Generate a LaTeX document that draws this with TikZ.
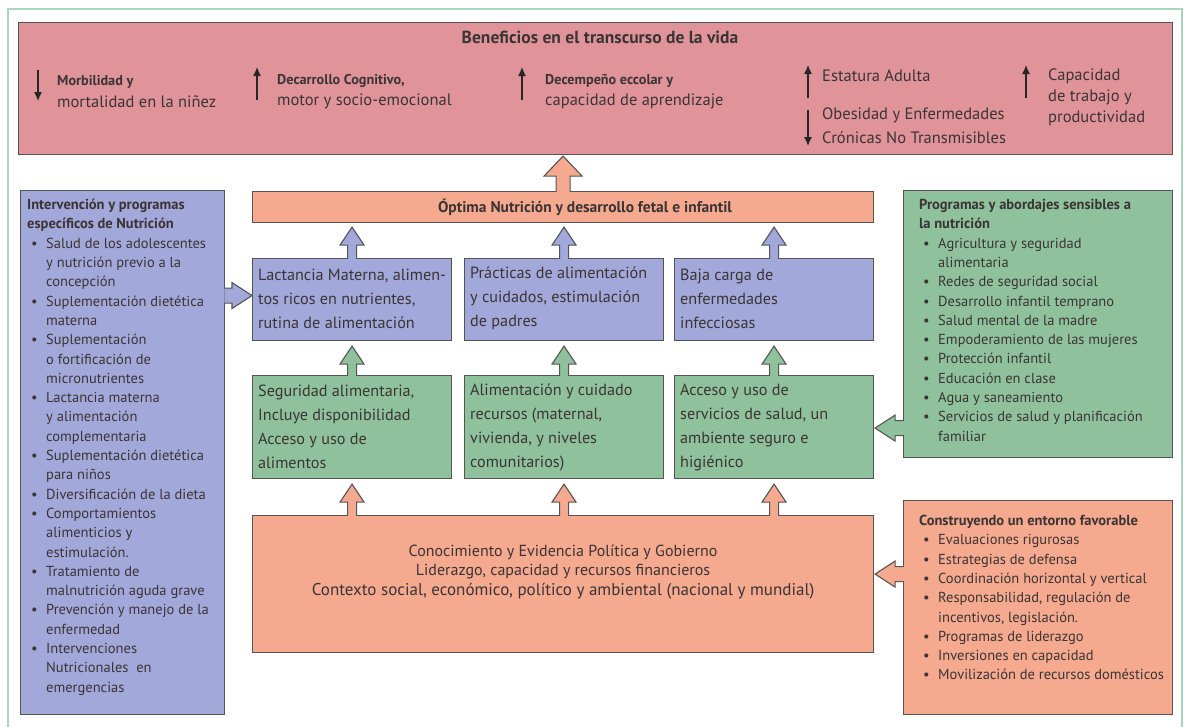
\documentclass[tikz,border=0pt]{standalone}
\usepackage{fontspec}
\setmainfont{PT Sans}
\usetikzlibrary{arrows.meta,calc}
\definecolor{pinkc}{HTML}{E0949A}
\definecolor{bluec}{HTML}{A2A8DA}
\definecolor{greenc}{HTML}{8FC29C}
\definecolor{orangec}{HTML}{F5A98F}
\definecolor{framec}{HTML}{A6D6BC}
\definecolor{edgec}{HTML}{555555}
\definecolor{txt}{HTML}{3B3434}
\newcommand\bul{\hspace*{4pt}\makebox[15pt][l]{\textbullet}}
\newcommand\ind{\hspace*{19pt}}
\newcommand\blockarrow[6]{%
  \path let \p1=(#1), \p2=(#2), \n1={atan2(\y2-\y1,\x2-\x1)}, \n2={veclen(\x2-\x1,\y2-\y1)} in
    \pgfextra{\xdef\baang{\n1}\xdef\balen{\n2}\xdef\bax{\x1}\xdef\bay{\y1}};
  \begin{scope}[shift={(\bax,\bay)}, rotate=\baang]
    \fill[#6] (0pt,-#3pt) -- ({\balen-#5pt},-#3pt) -- ({\balen-#5pt},-#4pt) -- (\balen,0pt) -- ({\balen-#5pt},#4pt) -- ({\balen-#5pt},#3pt) -- (0pt,#3pt) -- cycle;
    \draw[barrowline] (0pt,-#3pt) -- ({\balen-#5pt},-#3pt) -- ({\balen-#5pt},-#4pt) -- (\balen,0pt) -- ({\balen-#5pt},#4pt) -- ({\balen-#5pt},#3pt) -- (0pt,#3pt);
  \end{scope}}
\tikzset{
  box/.style={draw=edgec, line width=1.1pt, rectangle, inner sep=0pt, anchor=north west},
  btxt/.style={text=txt, inner sep=0pt, align=left, font=\fontsize{16.2}{24}\selectfont},
  ltxt/.style={text=txt, inner sep=0pt, align=left, anchor=north west, font=\fontsize{14.5}{19.3}\selectfont},
  ptxt/.style={text=txt, inner sep=0pt, anchor=west, font=\fontsize{16.5}{19}\selectfont},
  psmall/.style={text=txt, inner sep=0pt, anchor=west, font=\bfseries\fontsize{14.2}{16}\selectfont},
  parrow/.style={draw=black!85, line width=1.3pt, -{Latex[length=9pt,width=8pt]}},
  barrowline/.style={draw=edgec, line width=1.1pt, line join=miter}
}
\begin{document}
\begin{tikzpicture}[x=1pt,y=-1pt]
\useasboundingbox (0,0) rectangle (1188,726);
\fill[white] (0,0) rectangle (1188,726);
\draw[framec, line width=1.8pt] (8,740) -- (8,9) -- (1182,9) -- (1182,740);

% top box
\node[box, fill=pinkc, minimum width=1154pt, minimum height=132pt] (pink) at (18,22) {};
\node[text=txt, inner sep=0pt, font=\bfseries\fontsize{17.5}{20}\selectfont] (ptitle) at (600,37) {Beneficios en el transcurso de la vida};

\coordinate (a1s) at (38,70);  \coordinate (a1e) at (38,101);
\coordinate (a2s) at (257,100); \coordinate (a2e) at (257,67);
\coordinate (a3s) at (522,100); \coordinate (a3e) at (522,67);
\coordinate (a4s) at (808,98);  \coordinate (a4e) at (808,65);
\coordinate (a5s) at (808,110); \coordinate (a5e) at (808,146);
\coordinate (a6s) at (1026,98); \coordinate (a6e) at (1026,65);
\draw[parrow] (a1s) -- (a1e);
\draw[parrow] (a2s) -- (a2e);
\draw[parrow] (a3s) -- (a3e);
\draw[parrow] (a4s) -- (a4e);
\draw[parrow] (a5s) -- (a5e);
\draw[parrow] (a6s) -- (a6e);

\node[psmall] (p1a) at (57,82) {Morbilidad y};
\node[ptxt] (p1b) at (57,102) {mortalidad en la niñez};
\node[psmall] (p2a) at (277,81) {Decarrollo Cognitivo,};
\node[ptxt] (p2b) at (277,101) {motor y socio-emocional};
\node[psmall] (p3a) at (545,81) {Decempeño eccolar y};
\node[ptxt] (p3b) at (545,101) {capacidad de aprendizaje};
\node[ptxt] (p4a) at (822,76) {Estatura Adulta};
\node[ptxt] (p4b) at (822,115) {Obesidad y Enfermedades};
\node[ptxt] (p4c) at (822,138) {Crónicas No Transmisibles};
\node[ptxt] (p5a) at (1048,76) {Capacidad};
\node[ptxt] (p5b) at (1048,97) {de trabajo y};
\node[ptxt] (p5c) at (1048,118) {productividad};

% optimal bar
\node[box, fill=orangec, minimum width=621pt, minimum height=31pt] (bar) at (252,191) {};
\node[text=txt, inner sep=0pt, font=\bfseries\fontsize{15.5}{17}\selectfont] (bartxt) at ($(bar.center)+(22,0)$) {Óptima Nutrición y desarrollo fetal e infantil};

% blue row
\node[box, fill=bluec, minimum width=199pt, minimum height=82pt] (b1) at (252,258) {};
\node[box, fill=bluec, minimum width=199pt, minimum height=82pt] (b2) at (464,258) {};
\node[box, fill=bluec, minimum width=199pt, minimum height=82pt] (b3) at (674,258) {};
\node[btxt, anchor=west] (b1t) at ($(b1.west)+(6,-1)$) {Lactancia Materna, alimen-\\tos ricos en nutrientes,\\rutina de alimentación};
\node[btxt, anchor=west] (b2t) at ($(b2.west)+(6,-1)$) {Prácticas de alimentación\\y cuidados, estimulación\\de padres};
\node[btxt, anchor=west] (b3t) at ($(b3.west)+(6,-1)$) {Baja carga de\\enfermedades\\infecciosas};

% green row
\node[box, fill=greenc, minimum width=199pt, minimum height=103pt] (g1) at (252,375) {};
\node[box, fill=greenc, minimum width=199pt, minimum height=103pt] (g2) at (464,375) {};
\node[box, fill=greenc, minimum width=199pt, minimum height=103pt] (g3) at (674,375) {};
\node[btxt, anchor=west] (g1t) at ($(g1.west)+(6,0)$) {Seguridad alimentaria,\\Incluye disponibilidad\\Acceso y uso de\\alimentos};
\node[btxt, anchor=west] (g2t) at ($(g2.west)+(6,0)$) {Alimentación y cuidado\\recursos (maternal,\\vivienda, y niveles\\comunitarios)};
\node[btxt, anchor=west] (g3t) at ($(g3.west)+(6,0)$) {Acceso y uso de\\servicios de salud, un\\ambiente seguro e\\higiénico};

% bottom orange
\node[box, fill=orangec, minimum width=621pt, minimum height=137pt] (bo) at (252,515) {};
\node[text=txt, inner sep=0pt, align=center, font=\fontsize{16}{20}\selectfont] (bot) at ($(bo.center)+(0,-12)$) {Conocimiento y Evidencia Política y Gobierno\\[-1pt]{\fontsize{16}{18}\selectfont Liderazgo, capacidad y recursos financieros}\\[0pt]{\fontsize{17}{20}\selectfont Contexto social, económico, político y ambiental (nacional y mundial)}};

% left box
\node[box, fill=bluec, minimum width=204pt, minimum height=524pt] (lb) at (20,190) {};
\node[ltxt] (lbt) at (27,199) {%
\textbf{Intervención y programas}\\
\textbf{específicos de Nutrición}\\
\bul Salud de los adolescentes\\
\ind y nutrición previo a la\\
\ind concepción\\
\bul Suplementación dietética\\
\ind materna\\
\bul Suplementación\\
\ind o fortificación de\\
\ind micronutrientes\\
\bul Lactancia materna\\
\ind y alimentación\\
\ind complementaria\\
\bul Suplementación dietética\\
\ind para niños\\
\bul Diversificación de la dieta\\
\bul Comportamientos\\
\ind alimenticios y\\
\ind estimulación.\\
\bul Tratamiento de\\
\ind malnutrición aguda grave\\
\bul Prevención y manejo de la\\
\ind enfermedad\\
\bul Intervenciones\\
\ind Nutricionales\ \ en\\
\ind emergencias};

% right green box
\node[box, fill=greenc, minimum width=269pt, minimum height=267pt] (rg) at (903,190) {};
\node[ltxt] (rgt) at (919,199) {%
\textbf{Programas y abordajes sensibles a}\\
\textbf{la nutrición}\\
\bul Agricultura y seguridad\\
\ind alimentaria\\
\bul Redes de seguridad social\\
\bul Desarrollo infantil temprano\\
\bul Salud mental de la madre\\
\bul Empoderamiento de las mujeres\\
\bul Protección infantil\\
\bul Educación en clase\\
\bul Agua y saneamiento\\
\bul Servicios de salud y planificación\\
\ind familiar};

% right orange box
\node[box, fill=orangec, minimum width=269pt, minimum height=214pt] (ro) at (903,500) {};
\node[ltxt] (rot) at (919,515) {%
\textbf{Construyendo un entorno favorable}\\
\bul Evaluaciones rigurosas\\
\bul Estrategias de defensa\\
\bul Coordinación horizontal y vertical\\
\bul Responsabilidad, regulación de\\
\ind incentivos, legislación.\\
\bul Programas de liderazgo\\
\bul Inversiones en capacidad\\
\bul Movilización de recursos domésticos};

% block arrows
\blockarrow{$(bar.north)+(0,0.8)$}{$(bar.north|-pink.south)+(0,1)$}{7}{19}{20}{orangec}
\blockarrow{$(b1.north)+(0,0.8)$}{$(b1.north|-bar.south)+(0,4)$}{4.5}{12}{18}{bluec}
\blockarrow{$(b2.north)+(0,0.8)$}{$(b2.north|-bar.south)+(0,4)$}{4.5}{12}{18}{bluec}
\blockarrow{$(b3.north)+(0,0.8)$}{$(b3.north|-bar.south)+(0,4)$}{4.5}{12}{18}{bluec}
\blockarrow{$(g1.north)+(0,0.8)$}{$(g1.north|-b1.south)+(0,5)$}{4.5}{12}{18}{greenc}
\blockarrow{$(g2.north)+(0,0.8)$}{$(g2.north|-b2.south)+(0,5)$}{4.5}{12}{18}{greenc}
\blockarrow{$(g3.north)+(0,0.8)$}{$(g3.north|-b3.south)+(0,5)$}{4.5}{12}{18}{greenc}
\blockarrow{$(bo.north-|g1.north)+(0,0.8)$}{$(g1.north|-g1.south)+(0,5)$}{4.5}{12}{18}{orangec}
\blockarrow{$(bo.north-|g2.north)+(0,0.8)$}{$(g2.north|-g2.south)+(0,5)$}{4.5}{12}{18}{orangec}
\blockarrow{$(bo.north-|g3.north)+(0,0.8)$}{$(g3.north|-g3.south)+(0,5)$}{4.5}{12}{18}{orangec}
\coordinate (la) at ($(b1.west)+(0,-4)$);
\blockarrow{$(lb.east|-la)+(-0.8,0)$}{la}{7.5}{13}{20}{bluec}
\coordinate (ga) at ($(g3.east)+(0,1)$);
\blockarrow{$(rg.west|-ga)+(0.8,0)$}{$(ga)+(1,0)$}{7.5}{13}{20}{greenc}
\coordinate (oa) at ($(bo.east)+(0,-10)$);
\blockarrow{$(ro.west|-oa)+(0.8,0)$}{$(oa)+(1,0)$}{7.5}{13}{20}{orangec}
\end{tikzpicture}
\end{document}
